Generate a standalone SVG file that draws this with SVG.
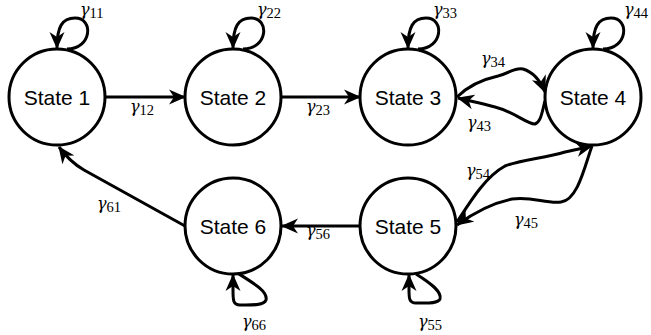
<svg xmlns="http://www.w3.org/2000/svg" width="651" height="335" viewBox="0 0 651 335">
<style>
.node circle{fill:#fff;stroke:#000;stroke-width:3}
.node text{font-family:"Liberation Sans",Arial,sans-serif;font-size:21px;text-anchor:middle;fill:#000}
.edge{fill:none;stroke:#000;stroke-width:3;marker-end:url(#arr)}
.lbl{font-family:"Liberation Serif","Times New Roman",serif;fill:#000}
.g{font-family:"DejaVu Serif",serif;font-style:italic;font-size:16px}
.s{font-size:14.5px}
</style>
<defs>
<marker id="arr" markerUnits="userSpaceOnUse" markerWidth="18" markerHeight="16" refX="16" refY="7.5" orient="auto" viewBox="0 0 18 15">
<path d="M0,0 L17,7.5 L0,15 L5,7.5 Z" fill="#000"/>
</marker>
</defs>
<rect width="651" height="335" fill="#fff"/>
<g id="connectors">
<path class="edge" d="M105 97 L185 97"/>
<path class="edge" d="M281 97 L360 97"/>
<path class="edge" d="M360 226 L282 226"/>
<path class="edge" d="M185 226 L84 170 Q70 162 59 147"/>
<path class="edge" d="M457 97 C468 86 480 80 498 76 C510 73 515 67 523 69 C533 72 540 80 545 92"/>
<path class="edge" d="M545 101 C542 112 541 122 535 124 C528 125 515 112 495 107 C480 103 470 101 458 98"/>
<path class="edge" d="M457 222 C470 202 485 177 505 166 C520 160 545 158 565 152 C575 150 583 148 592 146"/>
<path class="edge" d="M592 146 C585 165 578 200 561 202 C546 204 532 196 512 199 C492 203 472 214 457 225"/>
<path class="edge" d="M67 49 C92 49 94 18 75 18 C62 18 57 27 57 48"/>
<path class="edge" d="M243 49 C268 49 270 18 251 18 C238 18 233 27 233 48"/>
<path class="edge" d="M418 49 C443 49 445 18 426 18 C413 18 408 27 408 48"/>
<path class="edge" d="M603 49 C628 49 630 18 611 18 C598 18 593 27 593 48"/>
<path class="edge" d="M239 274 C255 284 268 292 266 300 C264 306 250 305 240 305 C233 305 233 300 233 290 L233 275"/>
<path class="edge" d="M416 274 C432 284 442 292 440 299 C438 304 426 303 416 303 C409 303 409 298 409 290 L409 275"/>
</g>
<g id="state1" class="node"><circle cx="57" cy="97" r="48"/><text x="57" y="104.5">State 1</text></g>
<g id="state2" class="node"><circle cx="233" cy="97" r="48"/><text x="233" y="104.5">State 2</text></g>
<g id="state3" class="node"><circle cx="408" cy="97" r="48"/><text x="408" y="104.5">State 3</text></g>
<g id="state4" class="node"><circle cx="593" cy="97" r="48"/><text x="593" y="104.5">State 4</text></g>
<g id="state5" class="node"><circle cx="408" cy="226" r="48"/><text x="408" y="233.5">State 5</text></g>
<g id="state6" class="node"><circle cx="233" cy="226" r="48"/><text x="233" y="233.5">State 6</text></g>
<g id="labels" class="lbl">
<text x="80" y="15"><tspan class="g">γ</tspan><tspan class="s" dy="3" dx="0">11</tspan></text>
<text x="257" y="15"><tspan class="g">γ</tspan><tspan class="s" dy="3" dx="0">22</tspan></text>
<text x="433" y="15"><tspan class="g">γ</tspan><tspan class="s" dy="3" dx="0">33</tspan></text>
<text x="624" y="15"><tspan class="g">γ</tspan><tspan class="s" dy="3" dx="0">44</tspan></text>
<text x="130" y="112"><tspan class="g">γ</tspan><tspan class="s" dy="3" dx="0">12</tspan></text>
<text x="306" y="112"><tspan class="g">γ</tspan><tspan class="s" dy="3" dx="0">23</tspan></text>
<text x="481" y="64"><tspan class="g">γ</tspan><tspan class="s" dy="3" dx="0">34</tspan></text>
<text x="467" y="128"><tspan class="g">γ</tspan><tspan class="s" dy="3" dx="0">43</tspan></text>
<text x="466" y="176"><tspan class="g">γ</tspan><tspan class="s" dy="3" dx="0">54</tspan></text>
<text x="514" y="225"><tspan class="g">γ</tspan><tspan class="s" dy="3" dx="0">45</tspan></text>
<text x="306" y="236"><tspan class="g">γ</tspan><tspan class="s" dy="3" dx="0">56</tspan></text>
<text x="97" y="209"><tspan class="g">γ</tspan><tspan class="s" dy="3" dx="0">61</tspan></text>
<text x="242" y="327"><tspan class="g">γ</tspan><tspan class="s" dy="3" dx="0">66</tspan></text>
<text x="418" y="327"><tspan class="g">γ</tspan><tspan class="s" dy="3" dx="0">55</tspan></text>
</g>
</svg>
